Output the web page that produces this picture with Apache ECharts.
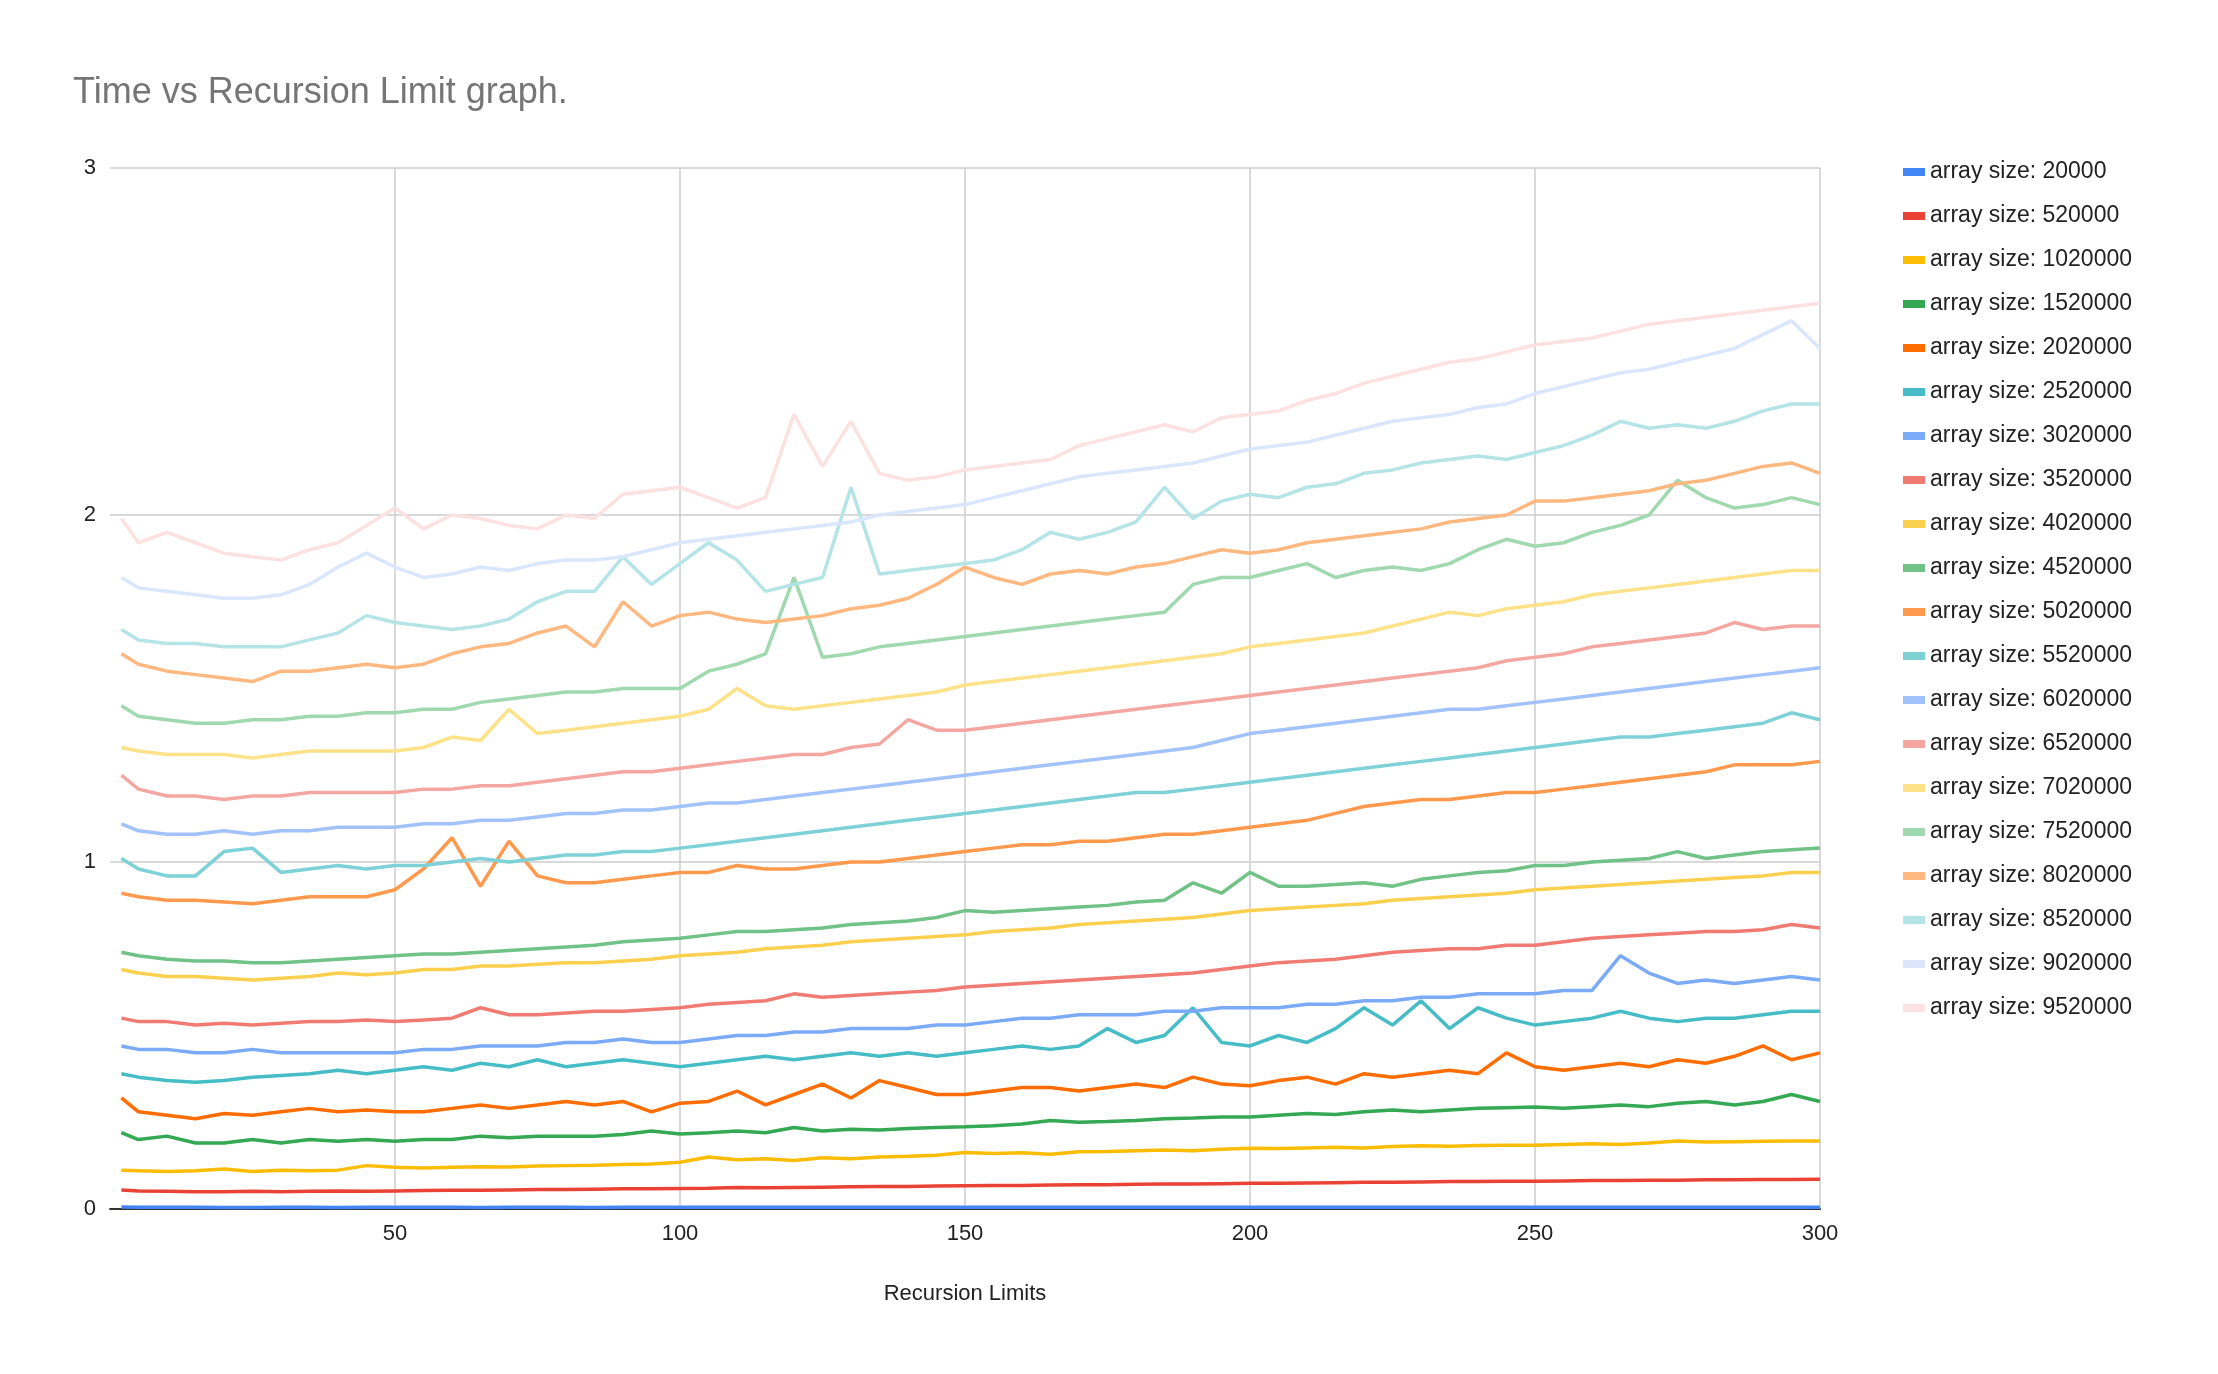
<!DOCTYPE html>
<html>
<head>
<meta charset="utf-8">
<script src="https://cdn.jsdelivr.net/npm/echarts@6/dist/echarts.min.js"></script>
<style>
html, body { margin: 0; padding: 0; background: #fff; }
#chart { width: 2218px; height: 1374px; }
</style>
</head>
<body>
<div id="chart"></div>
<script>
// recursion limits sampled on the x axis
var limits = [2];
for (var i = 5; i <= 300; i += 5) limits.push(i);

var sizes = [20000, 520000, 1020000, 1520000, 2020000, 2520000, 3020000, 3520000, 4020000, 4520000,
    5020000, 5520000, 6020000, 6520000, 7020000, 7520000, 8020000, 8520000, 9020000, 9520000];

var colors = ['#4285f4', '#ea4335', '#fbbc04', '#34a853', '#ff6d01', '#46bdc6', '#7baaf7', '#f07b72',
    '#fcd04f', '#71c287', '#ff994d', '#7ed1d7', '#a1c2fa', '#f4a7a1', '#fde289', '#a0d9b0',
    '#ffb880', '#b5e4e7', '#d9e6fc', '#fbe1df'];

var t20000 = [0.006,0.005,0.005,0.005,0.004,0.004,0.005,0.005,0.004,0.005,0.005,
    0.005,0.005,0.004,0.005,0.005,0.005,0.004,0.005,0.005,0.005,
    0.005,0.005,0.005,0.005,0.005,0.005,0.005,0.005,0.005,0.005,
    0.005,0.005,0.005,0.005,0.005,0.005,0.005,0.005,0.005,0.005,
    0.005,0.005,0.005,0.005,0.005,0.005,0.005,0.005,0.005,0.005,
    0.005,0.005,0.005,0.005,0.005,0.005,0.005,0.005,0.005,0.005];
var t520000 = [0.055,0.052,0.051,0.050,0.050,0.051,0.050,0.051,0.052,0.051,0.052,
    0.053,0.054,0.054,0.055,0.056,0.056,0.057,0.058,0.058,0.059,
    0.060,0.062,0.061,0.062,0.063,0.064,0.065,0.065,0.066,0.067,
    0.068,0.068,0.069,0.070,0.070,0.071,0.072,0.072,0.073,0.074,
    0.074,0.075,0.076,0.077,0.077,0.078,0.079,0.079,0.080,0.080,
    0.081,0.082,0.082,0.083,0.083,0.084,0.084,0.085,0.085,0.086];
var t1020000 = [0.112,0.110,0.108,0.110,0.115,0.108,0.112,0.110,0.112,0.125,0.120,
    0.118,0.120,0.122,0.121,0.124,0.125,0.126,0.128,0.130,0.135,
    0.150,0.142,0.145,0.140,0.148,0.145,0.150,0.152,0.155,0.163,
    0.160,0.162,0.158,0.165,0.166,0.168,0.170,0.168,0.172,0.175,
    0.174,0.176,0.178,0.176,0.180,0.182,0.181,0.183,0.184,0.184,
    0.186,0.188,0.186,0.190,0.196,0.193,0.194,0.195,0.196,0.196];
var t1520000 = [0.22,0.20,0.21,0.19,0.19,0.20,0.19,0.20,0.195,0.20,0.195,
    0.20,0.20,0.21,0.205,0.21,0.21,0.21,0.215,0.225,0.216,
    0.22,0.225,0.22,0.235,0.225,0.23,0.228,0.232,0.235,0.237,
    0.24,0.245,0.255,0.25,0.252,0.255,0.26,0.262,0.265,0.265,
    0.27,0.275,0.272,0.28,0.285,0.28,0.285,0.29,0.292,0.294,
    0.29,0.295,0.30,0.295,0.305,0.31,0.30,0.31,0.33,0.31];
var t2020000 = [0.32,0.28,0.27,0.26,0.275,0.27,0.28,0.29,0.28,0.285,0.28,
    0.28,0.29,0.30,0.29,0.30,0.31,0.30,0.31,0.28,0.305,
    0.31,0.34,0.30,0.33,0.36,0.32,0.37,0.35,0.33,0.33,
    0.34,0.35,0.35,0.34,0.35,0.36,0.35,0.38,0.36,0.355,
    0.37,0.38,0.36,0.39,0.38,0.39,0.40,0.39,0.45,0.41,
    0.40,0.41,0.42,0.41,0.43,0.42,0.44,0.47,0.43,0.45];
var t2520000 = [0.39,0.38,0.37,0.365,0.37,0.38,0.385,0.39,0.40,0.39,0.40,
    0.41,0.40,0.42,0.41,0.43,0.41,0.42,0.43,0.42,0.41,
    0.42,0.43,0.44,0.43,0.44,0.45,0.44,0.45,0.44,0.45,
    0.46,0.47,0.46,0.47,0.52,0.48,0.50,0.58,0.48,0.47,
    0.50,0.48,0.52,0.58,0.53,0.60,0.52,0.58,0.55,0.53,
    0.54,0.55,0.57,0.55,0.54,0.55,0.55,0.56,0.57,0.57];
var t3020000 = [0.47,0.46,0.46,0.45,0.45,0.46,0.45,0.45,0.45,0.45,0.45,
    0.46,0.46,0.47,0.47,0.47,0.48,0.48,0.49,0.48,0.48,
    0.49,0.50,0.50,0.51,0.51,0.52,0.52,0.52,0.53,0.53,
    0.54,0.55,0.55,0.56,0.56,0.56,0.57,0.57,0.58,0.58,
    0.58,0.59,0.59,0.60,0.60,0.61,0.61,0.62,0.62,0.62,
    0.63,0.63,0.73,0.68,0.65,0.66,0.65,0.66,0.67,0.66];
var t3520000 = [0.55,0.54,0.54,0.53,0.535,0.53,0.535,0.54,0.54,0.545,0.54,
    0.545,0.55,0.58,0.56,0.56,0.565,0.57,0.57,0.575,0.58,
    0.59,0.595,0.60,0.62,0.61,0.615,0.62,0.625,0.63,0.64,
    0.645,0.65,0.655,0.66,0.665,0.67,0.675,0.68,0.69,0.70,
    0.71,0.715,0.72,0.73,0.74,0.745,0.75,0.75,0.76,0.76,
    0.77,0.78,0.785,0.79,0.795,0.80,0.80,0.805,0.82,0.81];
var t4020000 = [0.69,0.68,0.67,0.67,0.665,0.66,0.665,0.67,0.68,0.675,0.68,
    0.69,0.69,0.70,0.70,0.705,0.71,0.71,0.715,0.72,0.73,
    0.735,0.74,0.75,0.755,0.76,0.77,0.775,0.78,0.785,0.79,
    0.80,0.805,0.81,0.82,0.825,0.83,0.835,0.84,0.85,0.86,
    0.865,0.87,0.875,0.88,0.89,0.895,0.90,0.905,0.91,0.92,
    0.925,0.93,0.935,0.94,0.945,0.95,0.955,0.96,0.97,0.97];
var t4520000 = [0.74,0.73,0.72,0.715,0.715,0.71,0.71,0.715,0.72,0.725,0.73,
    0.735,0.735,0.74,0.745,0.75,0.755,0.76,0.77,0.775,0.78,
    0.79,0.80,0.80,0.805,0.81,0.82,0.825,0.83,0.84,0.86,
    0.855,0.86,0.865,0.87,0.875,0.885,0.89,0.94,0.91,0.97,
    0.93,0.93,0.935,0.94,0.93,0.95,0.96,0.97,0.975,0.99,
    0.99,1.00,1.005,1.01,1.03,1.01,1.02,1.03,1.035,1.04];
var t5020000 = [0.91,0.90,0.89,0.89,0.885,0.88,0.89,0.90,0.90,0.90,0.92,
    0.98,1.07,0.93,1.06,0.96,0.94,0.94,0.95,0.96,0.97,
    0.97,0.99,0.98,0.98,0.99,1.00,1.00,1.01,1.02,1.03,
    1.04,1.05,1.05,1.06,1.06,1.07,1.08,1.08,1.09,1.10,
    1.11,1.12,1.14,1.16,1.17,1.18,1.18,1.19,1.20,1.20,
    1.21,1.22,1.23,1.24,1.25,1.26,1.28,1.28,1.28,1.29];
var t5520000 = [1.01,0.98,0.96,0.96,1.03,1.04,0.97,0.98,0.99,0.98,0.99,
    0.99,1.00,1.01,1.00,1.01,1.02,1.02,1.03,1.03,1.04,
    1.05,1.06,1.07,1.08,1.09,1.10,1.11,1.12,1.13,1.14,
    1.15,1.16,1.17,1.18,1.19,1.20,1.20,1.21,1.22,1.23,
    1.24,1.25,1.26,1.27,1.28,1.29,1.30,1.31,1.32,1.33,
    1.34,1.35,1.36,1.36,1.37,1.38,1.39,1.40,1.43,1.41];
var t6020000 = [1.11,1.09,1.08,1.08,1.09,1.08,1.09,1.09,1.10,1.10,1.10,
    1.11,1.11,1.12,1.12,1.13,1.14,1.14,1.15,1.15,1.16,
    1.17,1.17,1.18,1.19,1.20,1.21,1.22,1.23,1.24,1.25,
    1.26,1.27,1.28,1.29,1.30,1.31,1.32,1.33,1.35,1.37,
    1.38,1.39,1.40,1.41,1.42,1.43,1.44,1.44,1.45,1.46,
    1.47,1.48,1.49,1.50,1.51,1.52,1.53,1.54,1.55,1.56];
var t6520000 = [1.25,1.21,1.19,1.19,1.18,1.19,1.19,1.20,1.20,1.20,1.20,
    1.21,1.21,1.22,1.22,1.23,1.24,1.25,1.26,1.26,1.27,
    1.28,1.29,1.30,1.31,1.31,1.33,1.34,1.41,1.38,1.38,
    1.39,1.40,1.41,1.42,1.43,1.44,1.45,1.46,1.47,1.48,
    1.49,1.50,1.51,1.52,1.53,1.54,1.55,1.56,1.58,1.59,
    1.60,1.62,1.63,1.64,1.65,1.66,1.69,1.67,1.68,1.68];
var t7020000 = [1.33,1.32,1.31,1.31,1.31,1.30,1.31,1.32,1.32,1.32,1.32,
    1.33,1.36,1.35,1.44,1.37,1.38,1.39,1.40,1.41,1.42,
    1.44,1.50,1.45,1.44,1.45,1.46,1.47,1.48,1.49,1.51,
    1.52,1.53,1.54,1.55,1.56,1.57,1.58,1.59,1.60,1.62,
    1.63,1.64,1.65,1.66,1.68,1.70,1.72,1.71,1.73,1.74,
    1.75,1.77,1.78,1.79,1.80,1.81,1.82,1.83,1.84,1.84];
var t7520000 = [1.45,1.42,1.41,1.40,1.40,1.41,1.41,1.42,1.42,1.43,1.43,
    1.44,1.44,1.46,1.47,1.48,1.49,1.49,1.50,1.50,1.50,
    1.55,1.57,1.60,1.82,1.59,1.60,1.62,1.63,1.64,1.65,
    1.66,1.67,1.68,1.69,1.70,1.71,1.72,1.80,1.82,1.82,
    1.84,1.86,1.82,1.84,1.85,1.84,1.86,1.90,1.93,1.91,
    1.92,1.95,1.97,2.00,2.10,2.05,2.02,2.03,2.05,2.03];
var t8020000 = [1.60,1.57,1.55,1.54,1.53,1.52,1.55,1.55,1.56,1.57,1.56,
    1.57,1.60,1.62,1.63,1.66,1.68,1.62,1.75,1.68,1.71,
    1.72,1.70,1.69,1.70,1.71,1.73,1.74,1.76,1.80,1.85,
    1.82,1.80,1.83,1.84,1.83,1.85,1.86,1.88,1.90,1.89,
    1.90,1.92,1.93,1.94,1.95,1.96,1.98,1.99,2.00,2.04,
    2.04,2.05,2.06,2.07,2.09,2.10,2.12,2.14,2.15,2.12];
var t8520000 = [1.67,1.64,1.63,1.63,1.62,1.62,1.62,1.64,1.66,1.71,1.69,
    1.68,1.67,1.68,1.70,1.75,1.78,1.78,1.88,1.80,1.86,
    1.92,1.87,1.78,1.80,1.82,2.08,1.83,1.84,1.85,1.86,
    1.87,1.90,1.95,1.93,1.95,1.98,2.08,1.99,2.04,2.06,
    2.05,2.08,2.09,2.12,2.13,2.15,2.16,2.17,2.16,2.18,
    2.20,2.23,2.27,2.25,2.26,2.25,2.27,2.30,2.32,2.32];
var t9020000 = [1.82,1.79,1.78,1.77,1.76,1.76,1.77,1.80,1.85,1.89,1.85,
    1.82,1.83,1.85,1.84,1.86,1.87,1.87,1.88,1.90,1.92,
    1.93,1.94,1.95,1.96,1.97,1.98,2.00,2.01,2.02,2.03,
    2.05,2.07,2.09,2.11,2.12,2.13,2.14,2.15,2.17,2.19,
    2.20,2.21,2.23,2.25,2.27,2.28,2.29,2.31,2.32,2.35,
    2.37,2.39,2.41,2.42,2.44,2.46,2.48,2.52,2.56,2.48];
var t9520000 = [1.99,1.92,1.95,1.92,1.89,1.88,1.87,1.90,1.92,1.97,2.02,
    1.96,2.00,1.99,1.97,1.96,2.00,1.99,2.06,2.07,2.08,
    2.05,2.02,2.05,2.29,2.14,2.27,2.12,2.10,2.11,2.13,
    2.14,2.15,2.16,2.20,2.22,2.24,2.26,2.24,2.28,2.29,
    2.30,2.33,2.35,2.38,2.40,2.42,2.44,2.45,2.47,2.49,
    2.50,2.51,2.53,2.55,2.56,2.57,2.58,2.59,2.60,2.61];

var times = [t20000, t520000, t1020000, t1520000, t2020000, t2520000, t3020000, t3520000, t4020000, t4520000,
    t5020000, t5520000, t6020000, t6520000, t7020000, t7520000, t8020000, t8520000, t9020000, t9520000];

var series = sizes.map(function(s, k) {
    return {
        name: 'array size: ' + s,
        type: 'line',
        showSymbol: false,
        symbol: 'none',
        lineStyle: { width: 3.5 },
        data: limits.map(function(x, j) { return [x, times[k][j]]; })
    };
});

var font = '"Liberation Sans", Arial, sans-serif';
var myChart = echarts.init(document.getElementById('chart'));
myChart.setOption({
    color: colors,
    animation: false,
    title: {
        text: 'Time vs Recursion Limit graph.',
        left: 68,
        top: 70,
        textStyle: { fontFamily: font, fontSize: 36, fontWeight: 'normal', color: '#757575' }
    },
    legend: {
        orient: 'vertical',
        left: 1898,
        top: 155,
        itemWidth: 22,
        itemHeight: 8,
        itemGap: 20,
        icon: 'rect',
        textStyle: { fontFamily: font, fontSize: 23, color: '#222', lineHeight: 24 }
    },
    grid: { left: 110, right: 398, top: 168, bottom: 165 },
    xAxis: {
        type: 'value',
        min: 0,
        max: 300,
        interval: 50,
        name: 'Recursion Limits',
        nameLocation: 'middle',
        nameGap: 74,
        nameTextStyle: { fontFamily: font, fontSize: 22, color: '#222' },
        axisLine: { lineStyle: { color: '#333', width: 2 } },
        axisTick: { show: false },
        axisLabel: {
            fontFamily: font, fontSize: 22, color: '#222', margin: 14,
            formatter: function(v) { return v === 0 ? '' : v; }
        },
        splitLine: { show: true, showMinLine: false, lineStyle: { color: '#ccc', width: 1.5 } }
    },
    yAxis: {
        type: 'value',
        min: 0,
        max: 3,
        interval: 1,
        axisLine: { show: false },
        axisTick: { show: false },
        axisLabel: { fontFamily: font, fontSize: 22, color: '#222', margin: 14 },
        splitLine: { lineStyle: { color: '#ccc', width: 1.5 } }
    },
    series: series
});
</script>
</body>
</html>
